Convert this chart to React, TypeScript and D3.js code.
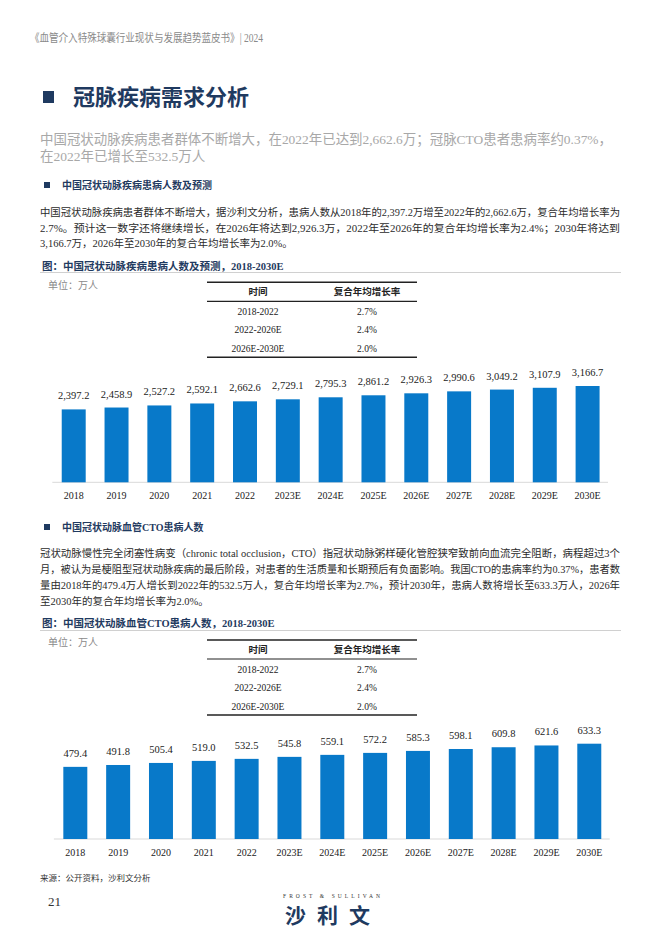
import React from "react";
import * as d3 from "d3";

const years = ["2018", "2019", "2020", "2021", "2022", "2023E", "2024E", "2025E", "2026E", "2027E", "2028E", "2029E", "2030E"];
const patients = [2397.2, 2458.9, 2527.2, 2592.1, 2662.6, 2729.1, 2795.3, 2861.2, 2926.3, 2990.6, 3049.2, 3107.9, 3166.7];
const ctoPatients = [479.4, 491.8, 505.4, 519.0, 532.5, 545.8, 559.1, 572.2, 585.3, 598.1, 609.8, 621.6, 633.3];
const periods = ["2018-2022", "2022-2026E", "2026E-2030E"];
const cagrPatients = ["2.7%", "2.4%", "2.0%"];
const cagrCto = ["2.7%", "2.4%", "2.0%"];
const tableHeader = ["时间", "复合年均增长率"];

const para1 = [
  "中国冠状动脉疾病患者群体不断增大，据沙利文分析，患病人数从2018年的2,397.2万增至2022年的2,662.6万，复合年均增长率为",
  "2.7%。预计这一数字还将继续增长，在2026年将达到2,926.3万，2022年至2026年的复合年均增长率为2.4%；2030年将达到",
  "3,166.7万，2026年至2030年的复合年均增长率为2.0%。",
];
const para2 = [
  "冠状动脉慢性完全闭塞性病变（chronic total occlusion，CTO）指冠状动脉粥样硬化管腔狭窄致前向血流完全阻断，病程超过3个",
  "月，被认为是梗阻型冠状动脉疾病的最后阶段，对患者的生活质量和长期预后有负面影响。我国CTO的患病率约为0.37%，患者数",
  "量由2018年的479.4万人增长到2022年的532.5万人，复合年均增长率为2.7%，预计2030年，患病人数将增长至633.3万人，2026年",
  "至2030年的复合年均增长率为2.0%。",
];

const FONT = '"Liberation Serif", "Noto Sans CJK SC", serif';
const NAVY = "#1f3a60";
const BAR = "#0879c9";
const fmt = d3.format(",.1f");

function Paragraph({ lines, y0, gap }: { lines: string[]; y0: number; gap: number }) {
  return (
    <g>
      {lines.map((l, i) => (
        <text
          key={i}
          x={40}
          y={y0 + i * gap}
          fontSize={10.5}
          fill="#2b2b2b"
          fontFamily={FONT}
          {...(i < lines.length - 1 ? { textLength: 580, lengthAdjust: "spacingAndGlyphs" } : {})}
        >
          {l}
        </text>
      ))}
    </g>
  );
}

function Table({ top, values }: { top: number; values: string[] }) {
  const x0 = 207, x1 = 417;
  const c1 = 258, c2 = 367;
  const rowY = [top + 29, top + 47.5, top + 66];
  return (
    <g fontFamily={FONT} fontSize={9.5} fill="#222">
      <line x1={x0} x2={x1} y1={top} y2={top} stroke="#222" strokeWidth={1.6} />
      <text x={c1} y={top + 13} textAnchor="middle" fontWeight="bold">{tableHeader[0]}</text>
      <text x={c2} y={top + 13} textAnchor="middle" fontWeight="bold">{tableHeader[1]}</text>
      <line x1={x0} x2={x1} y1={top + 19} y2={top + 19} stroke="#222" strokeWidth={1.2} />
      {periods.map((p, i) => (
        <g key={p}>
          <text x={c1} y={rowY[i] + 3.5} textAnchor="middle">{p}</text>
          <text x={c2} y={rowY[i] + 3.5} textAnchor="middle">{values[i]}</text>
        </g>
      ))}
      <line x1={x0} x2={x1} y1={top + 75} y2={top + 75} stroke="#222" strokeWidth={1.6} />
    </g>
  );
}

function Bars({ values, left, right, base, top, labelY }: { values: number[]; left: number; right: number; base: number; top: number; labelY: number }) {
  const x = d3.scaleBand<string>().domain(years).range([left, right]).paddingInner(0.44).paddingOuter(0.22);
  const y = d3.scaleLinear().domain([0, d3.max(values) as number]).range([base, top]);
  return (
    <g fontFamily={FONT}>
      <line x1={left} x2={right - 1} y1={base} y2={base} stroke="#d9d9d9" strokeWidth={1} />
      {values.map((v, i) => (
        <g key={years[i]}>
          <rect x={x(years[i])} y={y(v)} width={x.bandwidth()} height={base - y(v)} fill={BAR} />
          <text x={(x(years[i]) as number) + x.bandwidth() / 2} y={y(v) - 10} textAnchor="middle" fontSize={10.5} fill="#222">
            {fmt(v)}
          </text>
          <text x={(x(years[i]) as number) + x.bandwidth() / 2} y={labelY} textAnchor="middle" fontSize={10} fill="#222">
            {years[i]}
          </text>
        </g>
      ))}
    </g>
  );
}

export default function App() {
  return (
    <svg width={665} height={944} style={{ position: "absolute", left: 0, top: 0, background: "#fff" }}>
      <rect width={665} height={944} fill="#fff" />
      <text x={30} y={42} fontSize={11.5} fill="#8a8a8a" fontFamily={FONT} textLength={233} lengthAdjust="spacingAndGlyphs">
        《血管介入特殊球囊行业现状与发展趋势蓝皮书》| 2024
      </text>

      <rect x={43} y={91} width={11} height={12} fill={NAVY} />
      <text x={73} y={105} fontSize={22} fontWeight="bold" fill={NAVY} fontFamily={FONT}>冠脉疾病需求分析</text>

      <text x={40} y={144} fontSize={13.5} fill="#a8a8a8" fontFamily={FONT} textLength={572} lengthAdjust="spacingAndGlyphs">
        中国冠状动脉疾病患者群体不断增大，在2022年已达到2,662.6万；冠脉CTO患者患病率约0.37%，
      </text>
      <text x={40} y={161} fontSize={13.5} fill="#a8a8a8" fontFamily={FONT}>在2022年已增长至532.5万人</text>

      <rect x={44} y={182} width={6} height={6} fill={NAVY} />
      <text x={62} y={189} fontSize={10} fontWeight="bold" fill={NAVY} fontFamily={FONT}>中国冠状动脉疾病患病人数及预测</text>

      <Paragraph lines={para1} y0={216} gap={15.5} />

      <text x={42} y={270} fontSize={10.5} fontWeight="bold" fill={NAVY} fontFamily={FONT}>图：中国冠状动脉疾病患病人数及预测，2018-2030E</text>
      <line x1={40} x2={621} y1={272.5} y2={272.5} stroke="#d0d0d0" strokeWidth={1} />
      <text x={48} y={289} fontSize={10} fill="#8a8a8a" fontFamily={FONT}>单位：万人</text>
      <Table top={282.3} values={cagrPatients} />

      <Bars values={patients} left={52.3} right={609} base={482.3} top={386} labelY={499} />

      <rect x={44} y={524} width={6} height={6} fill={NAVY} />
      <text x={62} y={531} fontSize={10} fontWeight="bold" fill={NAVY} fontFamily={FONT}>中国冠状动脉血管CTO患病人数</text>

      <Paragraph lines={para2} y0={557} gap={16} />

      <text x={42} y={627} fontSize={10.5} fontWeight="bold" fill={NAVY} fontFamily={FONT}>图：中国冠状动脉血管CTO患病人数，2018-2030E</text>
      <line x1={40} x2={621} y1={630.5} y2={630.5} stroke="#d0d0d0" strokeWidth={1} />
      <text x={48} y={646} fontSize={10} fill="#8a8a8a" fontFamily={FONT}>单位：万人</text>
      <Table top={640} values={cagrCto} />

      <Bars values={ctoPatients} left={53.9} right={610.7} base={839} top={743.7} labelY={855.5} />

      <text x={40} y={881} fontSize={8.5} fill="#333" fontFamily={FONT}>来源：公开资料，沙利文分析</text>
      <text x={48} y={906} fontSize={13} fill="#333" fontFamily={FONT}>21</text>
      <text x={283} y={898} fontSize={5.5} fill="#333" fontFamily={FONT} textLength={97} lengthAdjust="spacing">FROST &amp; SULLIVAN</text>
      <text x={333} y={923} fontSize={21} fontWeight="bold" fill={NAVY} fontFamily='"Noto Sans CJK SC", sans-serif' textAnchor="middle" letterSpacing={11}>沙利文</text>
    </svg>
  );
}
